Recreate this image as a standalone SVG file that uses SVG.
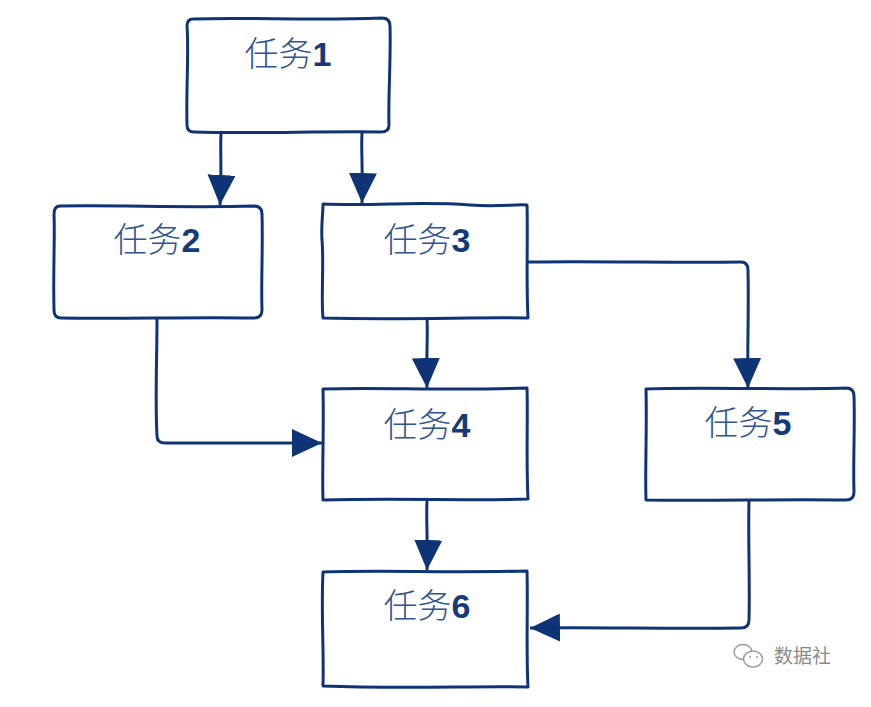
<svg xmlns="http://www.w3.org/2000/svg" width="871" height="707" viewBox="0 0 871 707">
  <style>
    .box { fill: #ffffff; stroke: #0f3475; stroke-width: 3; stroke-linejoin: round; }
    .wire { fill: none; stroke: #0f3475; stroke-width: 3; stroke-linejoin: round; marker-end: url(#head); }
    .label { font-family: "Noto Sans CJK SC", "Liberation Sans", sans-serif; font-weight: 300; font-size: 34px; fill: #2f558f; text-anchor: middle; }
    .num { font-family: "Liberation Sans", "Noto Sans", sans-serif; font-weight: bold; fill: #143a78; }
    .mark { font-family: "Noto Sans CJK SC", sans-serif; font-size: 19px; fill: #8a8a8a; }
  </style>
  <defs>
    <marker id="head" markerUnits="userSpaceOnUse" markerWidth="30" markerHeight="28" refX="30" refY="14" orient="auto">
      <path d="M0,0 L30,14 L0,28 Z" fill="#0f3475"/>
    </marker>
  </defs>
  <rect width="871" height="707" fill="#ffffff"/>

  <!-- connectors -->
  <g id="connectors">
    <path class="wire" d="M221,133 C220,150 222,165 220,205"/>
    <path class="wire" d="M362,133 C361,150 363,170 362,203"/>
    <path class="wire" d="M427,318 C428,340 426,360 427,388"/>
    <path class="wire" d="M157,318 C157,360 155,400 157,436 Q157,443 165,443 L322,443"/>
    <path class="wire" d="M528,262 C600,261 680,263 741,262 Q748,262 748,270 C749,320 747,350 748,388"/>
    <path class="wire" d="M427,500 C426,520 428,545 427,570"/>
    <path class="wire" d="M749,500 C748,540 750,580 749,620 Q749,628 741,628 C660,629 600,627 530,628"/>
  </g>

  <!-- nodes -->
  <g id="task1">
    <path class="box" d="M193,19 C250,17 310,21 382,18 Q390,18 390,26 C391,60 388,100 389,125 Q389,132 381,132 C320,131 250,134 194,132 Q187,132 187,125 C186,90 189,50 187,26 Q187,19 193,19 Z"/>
    <text class="label" x="288" y="66">任务<tspan class="num">1</tspan></text>
  </g>
  <g id="task2">
    <path class="box" d="M60,206 C120,205 190,208 254,206 Q262,206 262,214 C263,250 261,280 262,310 Q262,318 254,318 C190,317 120,319 61,318 Q54,318 54,310 C53,270 55,240 54,214 Q54,206 60,206 Z"/>
    <text class="label" x="157" y="252">任务<tspan class="num">2</tspan></text>
  </g>
  <g id="task3">
    <path class="box" d="M323,204 C380,206 420,201 470,205 C500,207 515,204 527,205 C528,240 526,280 528,318 C480,317 400,320 323,318 C321,300 324,260 322,240 C321,225 323,214 323,204 Z"/>
    <text class="label" x="427" y="252">任务<tspan class="num">3</tspan></text>
  </g>
  <g id="task4">
    <path class="box" d="M323,389 C380,387 450,391 527,388 C528,420 526,460 528,499 C470,501 400,498 323,500 C322,470 324,430 323,389 Z"/>
    <text class="label" x="427" y="437">任务<tspan class="num">4</tspan></text>
  </g>
  <g id="task5">
    <path class="box" d="M646,389 C700,387 780,390 846,388 Q854,388 854,396 C855,430 853,460 854,492 Q854,500 846,500 C780,499 710,501 646,500 C645,470 647,430 646,389 Z"/>
    <text class="label" x="748" y="435">任务<tspan class="num">5</tspan></text>
  </g>
  <g id="task6">
    <path class="box" d="M323,572 C380,570 450,573 527,571 C528,610 526,650 528,687 C470,686 400,689 323,686 C324,650 321,610 323,572 Z"/>
    <text class="label" x="427" y="618">任务<tspan class="num">6</tspan></text>
  </g>

  <!-- badge -->
  <g id="badge" fill="none" stroke="#9a9a9a" stroke-width="1.4">
    <ellipse cx="743" cy="652" rx="9" ry="7.5"/>
    <ellipse cx="753" cy="659" rx="9.5" ry="8" fill="#ffffff"/>
    <circle cx="750" cy="657" r="1" fill="#9a9a9a" stroke="none"/>
    <circle cx="757" cy="657" r="1" fill="#9a9a9a" stroke="none"/>
    <text class="mark" x="774" y="663" stroke="none">数据社</text>
  </g>
</svg>
